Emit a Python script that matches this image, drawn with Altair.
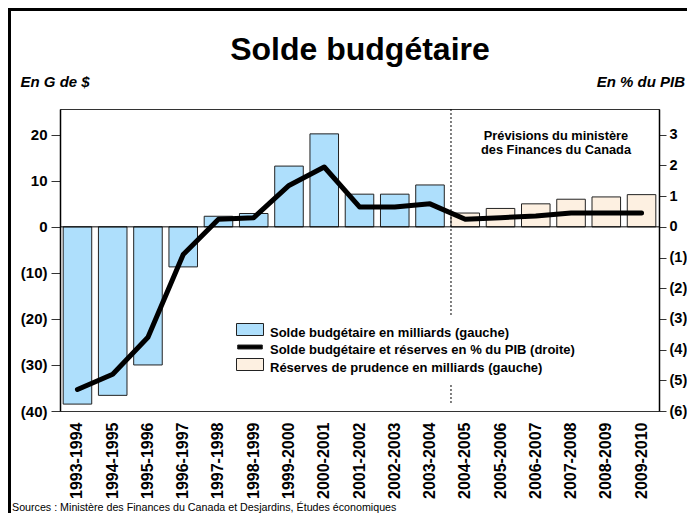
import altair as alt
import pandas as pd

# ---------------- data ----------------
years = ["1993-1994", "1994-1995", "1995-1996", "1996-1997", "1997-1998",
         "1998-1999", "1999-2000", "2000-2001", "2001-2002", "2002-2003",
         "2003-2004", "2004-2005", "2005-2006", "2006-2007", "2007-2008",
         "2008-2009", "2009-2010"]
solde = [-38.5, -36.6, -30.0, -8.7, 2.3, 2.9, 13.2, 20.2, 7.1, 7.1, 9.1]
reserves = [3.0, 4.0, 5.0, 6.0, 6.5, 7.0]
pct_pib = [-5.3, -4.8, -3.6, -0.9, 0.25, 0.3, 1.35, 1.95, 0.65, 0.65, 0.75,
           0.25, 0.3, 0.35, 0.45, 0.45, 0.45]
series = ["Solde budgétaire en milliards (gauche)",
          "Solde budgétaire et réserves en % du PIB (droite)",
          "Réserves de prudence en milliards (gauche)"]
left_ticks = [-40, -30, -20, -10, 0, 10, 20]
right_ticks = [-6, -5, -4, -3, -2, -1, 0, 1, 2, 3]

FONT = "Liberation Sans"

bars_df = pd.DataFrame({
    "annee": years,
    "valeur": solde + reserves,
    "serie": [series[0]] * len(solde) + [series[2]] * len(reserves),
})
line_df = pd.DataFrame({"annee": years, "pct": pct_pib})
legend_df = pd.DataFrame({"serie": series})

color_scale = alt.Scale(domain=series, range=["#aedffc", "black", "#fdf0e1"])

x_scale = alt.Scale(domain=years, paddingInner=0.19, paddingOuter=0.09)
x_axis = alt.Axis(title=None, labelAngle=-90, labelFont=FONT, labelFontSize=16,
                  labelFontWeight="bold", labelColor="black", ticks=False,
                  domain=False, labelPadding=11, labelBaseline="middle")


def xenc(**kw):
    return alt.X("annee:N", scale=x_scale, axis=x_axis, sort=years, **kw)


left_y = alt.Scale(domain=[-40, 25.6], nice=False, zero=False)
right_y = alt.Scale(domain=[-6, 3.84], nice=False, zero=False)

neg_expr = "datum.value < 0 ? '(' + (-datum.value) + ')' : datum.label"

bars = alt.Chart(bars_df).mark_bar(stroke="#222", strokeWidth=1).encode(
    x=xenc(),
    y=alt.Y("valeur:Q", scale=left_y,
            axis=alt.Axis(title=None, orient="left", values=left_ticks,
                          labelExpr=neg_expr,
                          labelFont=FONT, labelFontSize=15, labelFontWeight="bold",
                          labelColor="black", tickSize=9, tickColor="#333",
                          labelPadding=4, domainColor="black", domainWidth=1.5,
                          grid=False)),
    color=alt.Color("serie:N", scale=color_scale, legend=None),
)

zero_rule = alt.Chart(alt.Data(values=[{"v": 0}])).mark_rule(
    color="black", strokeWidth=1).encode(y=alt.Y("v:Q", scale=left_y))

dotted = alt.Chart(alt.Data(values=[{"annee": "2004-2005"}])).mark_rule(
    color="black", strokeWidth=1, strokeDash=[2, 2]).encode(
    x=xenc(bandPosition=0), y=alt.value(0), y2=alt.value(296))

left_layer = alt.layer(bars, zero_rule, dotted)

line = alt.Chart(line_df).mark_line(color="black", strokeWidth=5,
                                    strokeCap="round", strokeJoin="round").encode(
    x=xenc(),
    y=alt.Y("pct:Q", scale=right_y,
            axis=alt.Axis(title=None, orient="right", values=right_ticks,
                          labelExpr=neg_expr,
                          labelFont=FONT, labelFontSize=14.5, labelFontWeight="bold",
                          labelColor="black", tickSize=7, tickColor="#333",
                          labelPadding=3, domainColor="black", domainWidth=1.5,
                          grid=False)),
)

# ---------------- legend (built as a small layer) ----------------
leg_y = alt.Scale(type="point", domain=series, range=[220.5, 255.5], padding=0)
rect_path = "M-2.25,-1H2.25V1H-2.25Z"
line_path = "M-2.05,-0.33H2.05V0.33H-2.05Z"

legend_bg = alt.Chart(alt.Data(values=[{}])).mark_rect(fill="white").encode(
    x=alt.value(170), x2=alt.value(530), y=alt.value(207), y2=alt.value(274))

legend_sym = alt.Chart(legend_df).mark_point(
    filled=True, size=144, stroke="#222", strokeWidth=1, opacity=1).encode(
    x=alt.value(190),
    y=alt.Y("serie:N", scale=leg_y, axis=None),
    color=alt.Color("serie:N", scale=color_scale, legend=None),
    shape=alt.Shape("serie:N", scale=alt.Scale(domain=series,
                                                range=[rect_path, line_path, rect_path]),
                    legend=None),
)

legend_txt = alt.Chart(legend_df).mark_text(
    font=FONT, fontSize=13, fontWeight="bold", color="black", align="left",
    baseline="alphabetic", dy=7).encode(
    x=alt.value(210),
    y=alt.Y("serie:N", scale=leg_y, axis=None),
    text="serie:N",
)

legend_layer = alt.layer(legend_bg, legend_sym, legend_txt)


def note(text, x, y, **kw):
    return alt.Chart(alt.Data(values=[{}])).mark_text(font=FONT, color="black", **kw).encode(
        x=alt.value(x), y=alt.value(y), text=alt.value(text))


title = note("Solde budgétaire", 300, -49.5, fontSize=32, fontWeight="bold",
             align="center", baseline="alphabetic")
unit_left = note("En G de $", -39.5, -21.7, fontSize=15, fontWeight="bold",
                 fontStyle="italic", align="left", baseline="alphabetic")
unit_right = note("En % du PIB", 625, -21.7, fontSize=15, fontWeight="bold",
                  fontStyle="italic", align="right", baseline="alphabetic")
forecast = note(["Prévisions du ministère", "des Finances du Canada"], 496, 30.5,
                fontSize=12.8, fontWeight="bold", align="center",
                baseline="alphabetic", lineHeight=14)
sources = note("Sources : Ministère des Finances du Canada et Desjardins, Études économiques",
               -48, 402, fontSize=10.7, align="left", baseline="alphabetic")

# frame of the picture: left and top edges (right side is cropped in the reference)
border = alt.Chart(alt.Data(values=[{}])).mark_rect(
    fillOpacity=0, stroke="black", strokeWidth=3).encode(
    x=alt.value(-50.5), x2=alt.value(660), y=alt.value(-99.5), y2=alt.value(430))

chart = alt.layer(
    left_layer, line, legend_layer, title, unit_left, unit_right, forecast,
    sources, border
).resolve_scale(y="independent").properties(
    width=599, height=302,
    autosize=alt.AutoSizeParams(type="none"),
    padding={"left": 52, "top": 101, "right": 28, "bottom": 102},
    background="white",
).configure_view(stroke="#333", strokeWidth=1)

chart.save("out.html", embed_options={"renderer": "svg", "actions": False})
